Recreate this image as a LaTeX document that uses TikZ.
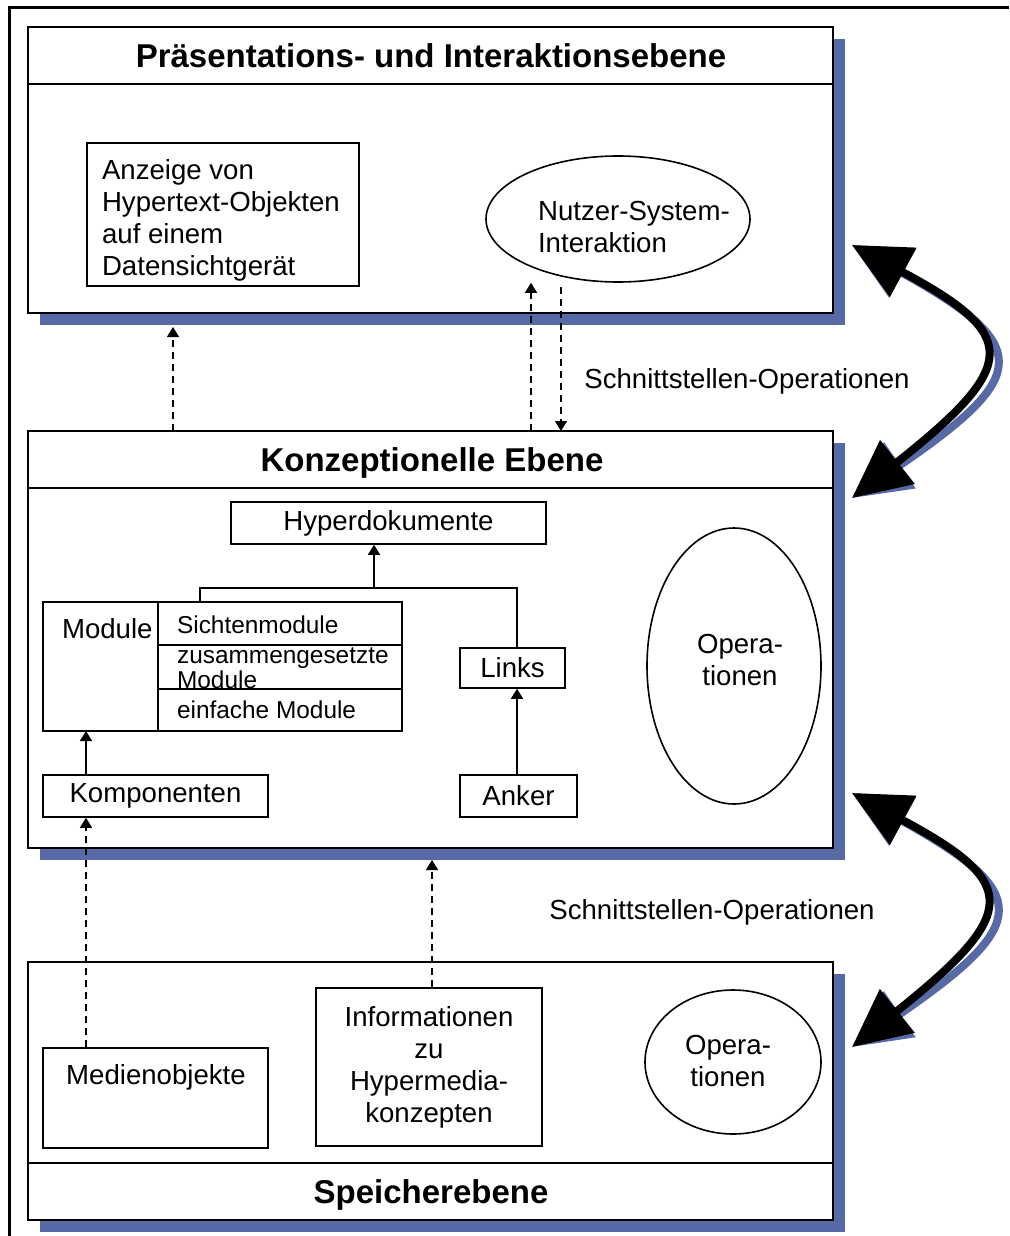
\documentclass[tikz,border=0pt]{standalone}
\usepackage{fontspec}
\setmainfont{Liberation Sans}
\usetikzlibrary{arrows.meta,shapes.geometric}
\definecolor{shadowblue}{RGB}{88,106,165}

\begin{document}
\begin{tikzpicture}[x=0.5pt, y=-0.5pt]
\tikzset{layer/.style = {draw, fill=white, line width=0.9pt}}
\tikzset{shadow/.style = {fill=shadowblue}}
\tikzset{box/.style = {draw, line width=0.8pt, inner sep=0pt}}
\tikzset{txt/.style = {font=\fontsize{13.8}{16}\selectfont}}
\tikzset{head/.style = {font=\fontsize{16.5}{19}\selectfont\bfseries}}
\tikzset{dasharrow/.style = {dashed, dash pattern=on 3.5pt off 2.5pt, line width=0.7pt, -{Triangle[length=5pt, width=6pt]}}}
\tikzset{solidarrow/.style = {line width=0.8pt, -{Triangle[length=5pt, width=6pt]}}}
\tikzset{bigarrow/.style = {line width=4pt, {Triangle[length=29pt, width=27pt]}-{Triangle[length=29pt, width=27pt]}}}
\useasboundingbox (0,0) rectangle (1009,1236);
\draw[line width=1.5pt] (9,1236) -- (9,8) -- (1009,8);

% the three layers with their shadows
\fill[shadow] (40,39) rectangle (845,325);
\draw[layer] (28,27) rectangle (833,313);
\draw[line width=0.9pt] (28,84) -- (833,84);
\fill[shadow] (40,443) rectangle (845,860);
\draw[layer] (28,431) rectangle (833,848);
\draw[line width=0.9pt] (28,488) -- (833,488);
\fill[shadow] (40,974) rectangle (845,1232);
\draw[layer] (28,962) rectangle (833,1220);
\draw[line width=0.9pt] (28,1163) -- (833,1163);

\node[head] (praes) at (431,56) {Präsentations- und Interaktionsebene};
\node[head] (konz) at (432,463) {Konzeptionelle Ebene};
\node[head] (speich) at (431,1195) {Speicherebene};

% Praesentationsebene
\node[box, minimum width=136pt, minimum height=71.5pt] (anzeige) at (223,214.5) {};
\node[txt, align=left, anchor=north west] (anzeigetxt) at (95,152)
  {Anzeige von\\Hypertext-Objekten\\auf einem\\Datensichtgerät};
\node[ellipse, draw, line width=0.8pt, minimum width=132pt, minimum height=63pt, inner sep=0pt] (nutzer) at (618,219) {};
\node[txt, align=left, anchor=west] (nutzertxt) at (531,227) {Nutzer-System-\\Interaktion};

% Konzeptionelle Ebene
\node[box, txt, minimum width=157.5pt, minimum height=21pt] (hyper) at (388.5,523) {Hyperdokumente};
\draw[box] (43,602) rectangle (402,731);
\draw[line width=0.8pt] (158,602) -- (158,731) (158,645) -- (402,645) (158,689) -- (402,689);
\node[txt, anchor=north west] (module) at (55,611) {Module};
\node[txt, font=\fontsize{12.2}{11}\selectfont, anchor=west] (sicht) at (170,625) {Sichtenmodule};
\node[txt, font=\fontsize{12.2}{11}\selectfont, anchor=west, align=left] (zusammen) at (170,668) {zusammengesetzte\\Module};
\node[txt, font=\fontsize{12.2}{11}\selectfont, anchor=west] (einfach) at (170,710) {einfache Module};
\coordinate (modtop) at (200,602);
\coordinate (modbot) at (86,731);
\node[box, txt, minimum width=52.5pt, minimum height=20pt] (links) at (512.5,668) {Links};
\node[box, txt, minimum width=58.5pt, minimum height=21pt] (anker) at (518.5,796) {Anker};
\node[box, txt, minimum width=112.5pt, minimum height=21pt] (komp) at (155.5,796) {Komponenten};
\node[ellipse, draw, line width=0.8pt, minimum width=87pt, minimum height=138pt, inner sep=0pt] (ops1) at (734,666) {};
\node[txt, align=center] (ops1txt) at (740,660) {Opera-\\tionen};

\coordinate (knot) at (374,588);
\coordinate (linkx) at (517,588);
\draw[line width=0.8pt] (modtop) |- (linkx) -- (linkx |- links.north);
\draw[solidarrow] (knot) -- (knot |- hyper.south);
\draw[solidarrow] (anker.north -| linkx) -- (links.south -| linkx);
\draw[solidarrow] (komp.north -| modbot) -- (modbot);

% Speicherebene
\node[box, minimum width=112.5pt, minimum height=50pt] (medien) at (155.5,1098) {};
\node[txt] (medientxt) at (156,1077) {Medienobjekte};
\node[box, txt, minimum width=113pt, minimum height=79pt, align=center] (info) at (429,1067)
  {Informationen\\zu\\Hypermedia-\\konzepten};
\node[ellipse, draw, line width=0.8pt, minimum width=88pt, minimum height=72pt, inner sep=0pt] (ops2) at (733,1062) {};
\node[txt, align=center] (ops2txt) at (728,1061) {Opera-\\tionen};

% gestrichelte Verbindungen
\coordinate (k1) at (173,431);
\coordinate (p1) at (173,327);
\coordinate (k2) at (531,431);
\coordinate (k3) at (561,431);
\coordinate (k4) at (432,860);
\draw[dasharrow] (k1) -- (p1);
\draw[dasharrow] (k2) -- (nutzer.south -| k2);
\draw[dasharrow] (nutzer.south -| k3) ++(0,4) -- (k3);
\draw[dasharrow] (info.north -| k4) -- (k4);
\draw[dasharrow] (medien.north -| modbot) -- (komp.south -| modbot);

\node[txt] (schnitt1) at (747,381) {Schnittstellen-Operationen};
\node[txt] (schnitt2) at (712,912) {Schnittstellen-Operationen};

% die grossen Doppelpfeile
\coordinate (a1) at (852,245);
\coordinate (a2) at (852,498);
\coordinate (b1) at (852,793);
\coordinate (b2) at (852,1047);
\draw[bigarrow, shadowblue, shift={(12,10)}] (a1) .. controls (1020,335) and (1020,365) .. (a2);
\draw[bigarrow] (a1) .. controls (1020,335) and (1020,365) .. (a2);
\draw[bigarrow, shadowblue, shift={(12,10)}] (b1) .. controls (1020,883) and (1020,913) .. (b2);
\draw[bigarrow] (b1) .. controls (1020,883) and (1020,913) .. (b2);
\end{tikzpicture}
\end{document}
